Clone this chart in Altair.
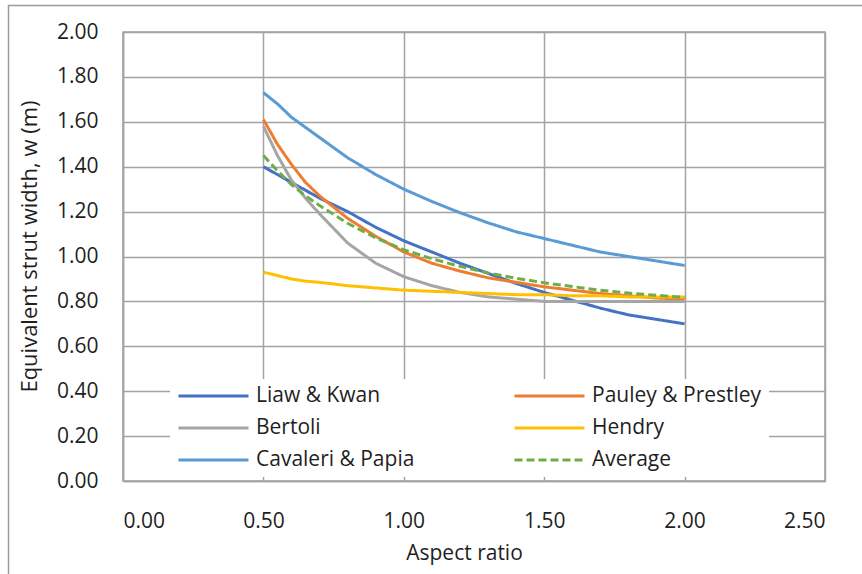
import altair as alt
import pandas as pd

# Aspect ratio (h/l) sampling points
aspect = [0.50, 0.55, 0.60, 0.65, 0.70, 0.80, 0.90, 1.00, 1.10, 1.20,
          1.30, 1.40, 1.50, 1.60, 1.70, 1.80, 1.90, 2.00]

# Equivalent strut width w (m) for each model
liaw_kwan = [1.40, 1.365, 1.33, 1.295, 1.26, 1.20, 1.13, 1.07, 1.02, 0.97,
             0.925, 0.88, 0.84, 0.805, 0.77, 0.74, 0.72, 0.70]
pauley_prestley = [1.61, 1.50, 1.41, 1.33, 1.27, 1.17, 1.09, 1.02, 0.97, 0.935,
                   0.905, 0.885, 0.865, 0.85, 0.835, 0.825, 0.815, 0.81]
bertoli = [1.58, 1.45, 1.34, 1.26, 1.19, 1.06, 0.97, 0.91, 0.87, 0.84,
           0.82, 0.81, 0.80, 0.80, 0.80, 0.80, 0.80, 0.80]
hendry = [0.93, 0.915, 0.90, 0.89, 0.885, 0.87, 0.86, 0.85, 0.845, 0.84,
          0.835, 0.83, 0.83, 0.825, 0.825, 0.82, 0.82, 0.82]
cavaleri_papia = [1.73, 1.68, 1.62, 1.575, 1.53, 1.44, 1.365, 1.30, 1.245, 1.195,
                  1.15, 1.11, 1.08, 1.05, 1.02, 1.00, 0.98, 0.96]
average = [1.45, 1.382, 1.32, 1.27, 1.227, 1.148, 1.083, 1.03, 0.99, 0.956,
           0.927, 0.903, 0.883, 0.866, 0.85, 0.837, 0.827, 0.818]

series_names = ["Liaw & Kwan", "Pauley & Prestley", "Bertoli", "Hendry",
                "Cavaleri & Papia", "Average"]
series_values = [liaw_kwan, pauley_prestley, bertoli, hendry, cavaleri_papia, average]

# Legend fills column by column, so list the left column first, then the right one
legend_order = ["Liaw & Kwan", "Bertoli", "Cavaleri & Papia",
                "Pauley & Prestley", "Hendry", "Average"]
legend_colors = ["#4472C4", "#A5A5A5", "#5B9BD5", "#ED7D31", "#FFC000", "#70AD47"]
legend_dash = [[1, 0], [1, 0], [1, 0], [1, 0], [1, 0], [8, 4]]

x_ticks = [0.0, 0.5, 1.0, 1.5, 2.0, 2.5]
y_ticks = [0.0, 0.2, 0.4, 0.6, 0.8, 1.0, 1.2, 1.4, 1.6, 1.8, 2.0]

rows = []
for name, vals in zip(series_names, series_values):
    for order, (a, w) in enumerate(zip(aspect, vals)):
        rows.append({"model": name, "aspect": a, "w": w, "order": order})
df = pd.DataFrame(rows)

FONT = "Open Sans"
TEXT = "#1f1f1f"
GRID = "#A3A3A3"
FS = 21

lines = alt.Chart(df).mark_line(strokeWidth=3).encode(
    x=alt.X("aspect:Q",
            scale=alt.Scale(domain=[0, 2.5], nice=False),
            axis=alt.Axis(values=x_ticks, format=".2f", title="Aspect ratio",
                          titleX=341, titleY=72, titleBaseline="middle",
                          labelPadding=29)),
    y=alt.Y("w:Q",
            scale=alt.Scale(domain=[0, 2], nice=False),
            axis=alt.Axis(values=y_ticks, format=".2f",
                          title="Equivalent strut width, w (m)",
                          titleX=-94, titleY=214, titleBaseline="middle",
                          titleAngle=-90, titleFontSize=22, labelPadding=25)),
    color=alt.Color("model:N",
                    scale=alt.Scale(domain=legend_order, range=legend_colors),
                    legend=alt.Legend(title=None, orient="none", legendX=47, legendY=347,
                                      columns=2, fillColor="white", padding=7,
                                      symbolType="stroke", symbolSize=4900,
                                      symbolStrokeWidth=3, labelOffset=6,
                                      rowPadding=11, clipHeight=20, columnPadding=98)),
    strokeDash=alt.StrokeDash("model:N",
                              scale=alt.Scale(domain=legend_order, range=legend_dash),
                              legend=alt.Legend(title=None, orient="none", legendX=47,
                                                legendY=347, columns=2)),
    order="order:Q",
)

# Outer chart frame: top and left edges
frame_top = alt.Chart(alt.Data(values=[{}])).mark_rule(
    color="#9A9A9A", strokeWidth=1.5).encode(
    x=alt.value(-115), x2=alt.value(739), y=alt.value(-26.5))
frame_left = alt.Chart(alt.Data(values=[{}])).mark_rule(
    color="#9A9A9A", strokeWidth=1.5).encode(
    x=alt.value(-114.5), y=alt.value(-27), y2=alt.value(542))

chart = alt.layer(frame_top, frame_left, lines).properties(
    width=702, height=449,
    autosize=alt.AutoSizeParams(type="none"),
    padding={"left": 123, "top": 32, "right": 37, "bottom": 93},
    background="white",
).configure_view(
    stroke=GRID, strokeWidth=1.5
).configure_axis(
    grid=True, gridColor=GRID, gridWidth=1.5, gridOpacity=1,
    domainColor=GRID, domainWidth=1.5, ticks=False,
    labelFont=FONT, labelFontSize=FS, labelColor=TEXT,
    titleFont=FONT, titleFontSize=FS, titleColor=TEXT, titleFontWeight="normal",
).configure_legend(
    labelFont=FONT, labelFontSize=FS, labelColor=TEXT, labelLimit=400,
)

chart.save("out.html", embed_options={"renderer": "svg", "actions": False})
